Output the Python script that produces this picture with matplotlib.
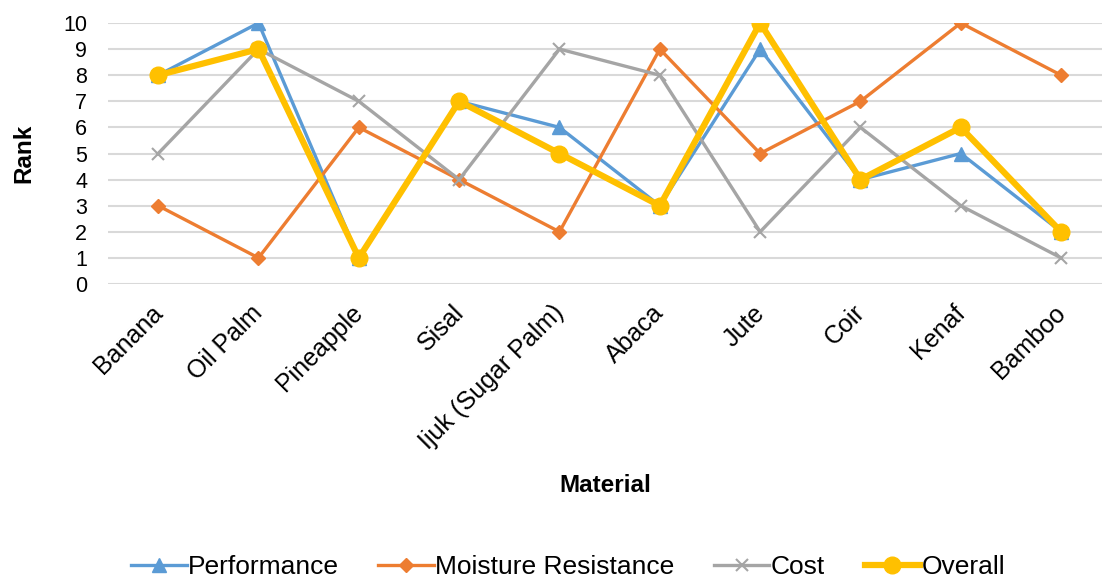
import matplotlib.pyplot as plt
import matplotlib.transforms as mtransforms
import numpy as np

plt.rcParams['font.family'] = ['Liberation Sans', 'DejaVu Sans']

materials = ['Banana', 'Oil Palm', 'Pineapple', 'Sisal', 'Ijuk (Sugar Palm)',
             'Abaca', 'Jute', 'Coir', 'Kenaf', 'Bamboo']
performance = [8, 10, 1, 7, 6, 3, 9, 4, 5, 2]
moisture = [3, 1, 6, 4, 2, 9, 5, 7, 10, 8]
cost = [5, 9, 7, 4, 9, 8, 2, 6, 3, 1]
overall = [8, 9, 1, 7, 5, 3, 10, 4, 6, 2]

fig = plt.figure(figsize=(11.02, 5.78), dpi=100)
ax = fig.add_axes([108 / 1102, 1 - 284 / 578, 994 / 1102, 261 / 578])

x = np.arange(len(materials))
ax.plot(x, performance, color='#5B9BD5', lw=2.4, marker='^', ms=9.5, label='Performance')
ax.plot(x, moisture, color='#ED7D31', lw=2.4, marker='D', ms=7.5, label='Moisture Resistance')
ax.plot(x, cost, color='#A5A5A5', lw=2.4, marker='x', ms=9, mew=1.5, label='Cost')
ax.plot(x, overall, color='#FFC000', lw=4.5, marker='o', ms=12, label='Overall')

ax.set_xlim(-0.5, -0.5 + 994 / 100.33)
ax.set_ylim(0, 10)
ax.set_yticks(range(0, 11))
ax.set_yticklabels([str(v) for v in range(0, 11)], fontsize=15.5)
ax.set_xticks(x)
ax.tick_params(axis='both', length=0)
ax.tick_params(axis='x', pad=12)
ax.tick_params(axis='y', pad=15)
ax.set_xticklabels(materials, rotation=45, ha='right', va='top',
                   rotation_mode='anchor', fontsize=18)
# nudge the slanted category names a little to the left
shift = mtransforms.ScaledTranslation(-8 / 100, 0, fig.dpi_scale_trans)
for tick in ax.xaxis.get_major_ticks():
    tick.label1.set_transform(tick.label1.get_transform() + shift)
ax.grid(axis='y', color='#D9D9D9', lw=1.5)
ax.set_axisbelow(True)
for s in ax.spines.values():
    s.set_visible(False)

ax.set_ylabel('Rank', fontsize=17.5, fontweight='bold', labelpad=20)
ax.set_xlabel('Material', fontsize=17.5, fontweight='bold', labelpad=14)

fig.legend(loc='center', bbox_to_anchor=(568 / 1102, 1 - 567 / 578), ncol=4,
           frameon=False, fontsize=19, handlelength=2.1, handletextpad=0.05,
           columnspacing=1.5)

fig.savefig('out.png', dpi=100)
